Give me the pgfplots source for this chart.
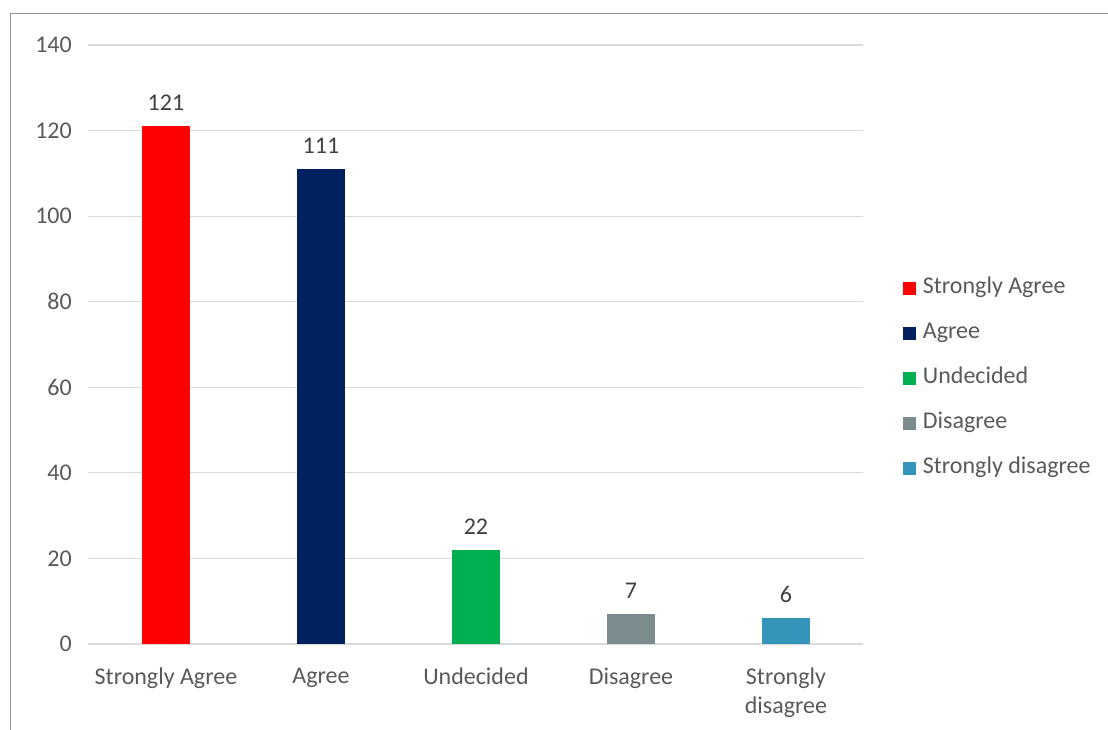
\documentclass[border=0pt]{standalone}
\usepackage{pgfplots}
\pgfplotsset{compat=1.18}
\usepackage{fontspec}
\setmainfont{Carlito}
\definecolor{csa}{HTML}{FF0000}
\definecolor{cag}{HTML}{002060}
\definecolor{cun}{HTML}{00B050}
\definecolor{cdi}{HTML}{7B8C8E}
\definecolor{csd}{HTML}{3494BA}
\definecolor{tickc}{HTML}{595959}
\definecolor{valc}{HTML}{404040}
\definecolor{gridc}{HTML}{D9D9D9}
\newcommand\lbl{\fontsize{18}{21.75}\selectfont}
\begin{document}
\begin{tikzpicture}[x=1pt,y=1pt]
\useasboundingbox (-65.25,-64.5) rectangle (765.75,483);
\draw[gray!85, line width=0.75pt] (-57,-64.5) -- (-57,472.5) -- (765.75,472.5);
\begin{axis}[
  at={(1.1pt,0pt)}, anchor=south west,
  width=581.25pt, height=449.25pt, scale only axis,
  /pgf/number format/assume math mode=true,
  ymin=0, ymax=140, ytick={0,20,...,140},
  xmin=-0.5, xmax=4.5, xtick={0,1,2,3,4},
  xticklabels={Strongly Agree,Agree,Undecided,Disagree,{Strongly\\disagree}},
  axis line style={draw=none}, major tick style={draw=none},
  ymajorgrids, grid style={color=gridc, line width=0.9pt},
  ybar, bar width=36pt, bar shift=0pt,
  every tick label/.append style={font=\lbl, text=tickc},
  yticklabel style={xshift=-9pt},
  xticklabel style={align=center, yshift=-10pt},
  nodes near coords,
  nodes near coords style={font=\lbl, text=valc, anchor=south, yshift=8pt},
  legend style={at={(1.051,0.443)}, anchor=west, draw=none, fill=none,
    inner sep=0pt, row sep=13.75pt, font=\lbl, text=tickc,
    nodes={inner sep=2pt, text height=12pt, text depth=4pt},
    /tikz/every odd column/.append style={column sep=3pt}},
  legend cell align=left,
  legend image code/.code={\fill[#1] (0pt,-4.4pt) rectangle (9.75pt,5.35pt);},
]
\addplot[fill=csa, draw=none, bar shift=0pt] coordinates {(0,121)};
\addplot[fill=cag, draw=none, bar shift=0pt] coordinates {(1,111)};
\addplot[fill=cun, draw=none, bar shift=0pt] coordinates {(2,22)};
\addplot[fill=cdi, draw=none, bar shift=0pt] coordinates {(3,7)};
\addplot[fill=csd, draw=none, bar shift=0pt] coordinates {(4,6)};
\legend{Strongly Agree,Agree,Undecided,Disagree,Strongly disagree}
\end{axis}
\end{tikzpicture}
\end{document}
